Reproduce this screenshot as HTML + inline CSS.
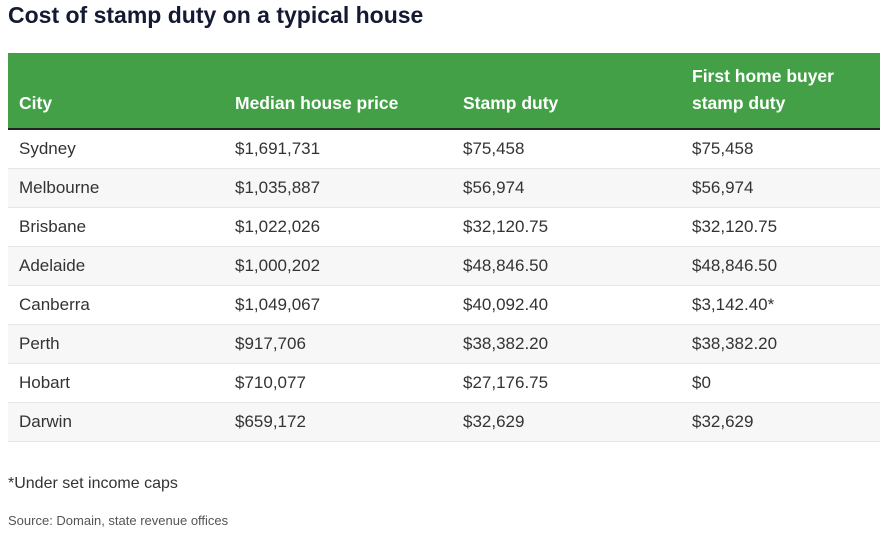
<!DOCTYPE html>
<html><head><meta charset="utf-8"><style>
body{margin:0;width:895px;height:536px;background:#fff;font-family:"Liberation Sans",sans-serif;position:relative;overflow:hidden}
.t{position:absolute;left:8px;top:2px;font-size:23px;font-weight:bold;color:#141a33;letter-spacing:0px}
table{position:absolute;left:8px;top:53px;width:872px;border-collapse:collapse;font-size:17px;color:#333}
th{background:#43a047;color:#fff;text-align:left;font-size:17.5px;height:64px;vertical-align:bottom;padding:0 0 11px 11px;line-height:27px;border-bottom:2px solid #222}
td{height:38px;padding:0 0 0 11px;border-bottom:1px solid #e6e6e6}
tr.g td{background:#f7f7f7}
.f{position:absolute;left:8px;top:475px;font-size:16px;color:#333}
.s{position:absolute;left:8px;top:513px;font-size:13px;color:#555}
</style></head><body>
<div class="t">Cost of stamp duty on a typical house</div>
<table>
<colgroup><col style="width:216px"><col style="width:228px"><col style="width:229px"><col></colgroup>
<tr><th>City</th><th>Median house price</th><th>Stamp duty</th><th>First home buyer<br>stamp duty</th></tr>
<tr><td>Sydney</td><td>$1,691,731</td><td>$75,458</td><td>$75,458</td></tr>
<tr class="g"><td>Melbourne</td><td>$1,035,887</td><td>$56,974</td><td>$56,974</td></tr>
<tr><td>Brisbane</td><td>$1,022,026</td><td>$32,120.75</td><td>$32,120.75</td></tr>
<tr class="g"><td>Adelaide</td><td>$1,000,202</td><td>$48,846.50</td><td>$48,846.50</td></tr>
<tr><td>Canberra</td><td>$1,049,067</td><td>$40,092.40</td><td>$3,142.40*</td></tr>
<tr class="g"><td>Perth</td><td>$917,706</td><td>$38,382.20</td><td>$38,382.20</td></tr>
<tr><td>Hobart</td><td>$710,077</td><td>$27,176.75</td><td>$0</td></tr>
<tr class="g"><td>Darwin</td><td>$659,172</td><td>$32,629</td><td>$32,629</td></tr>
</table>
<div class="f">*Under set income caps</div>
<div class="s">Source: Domain, state revenue offices</div>
</body></html>
